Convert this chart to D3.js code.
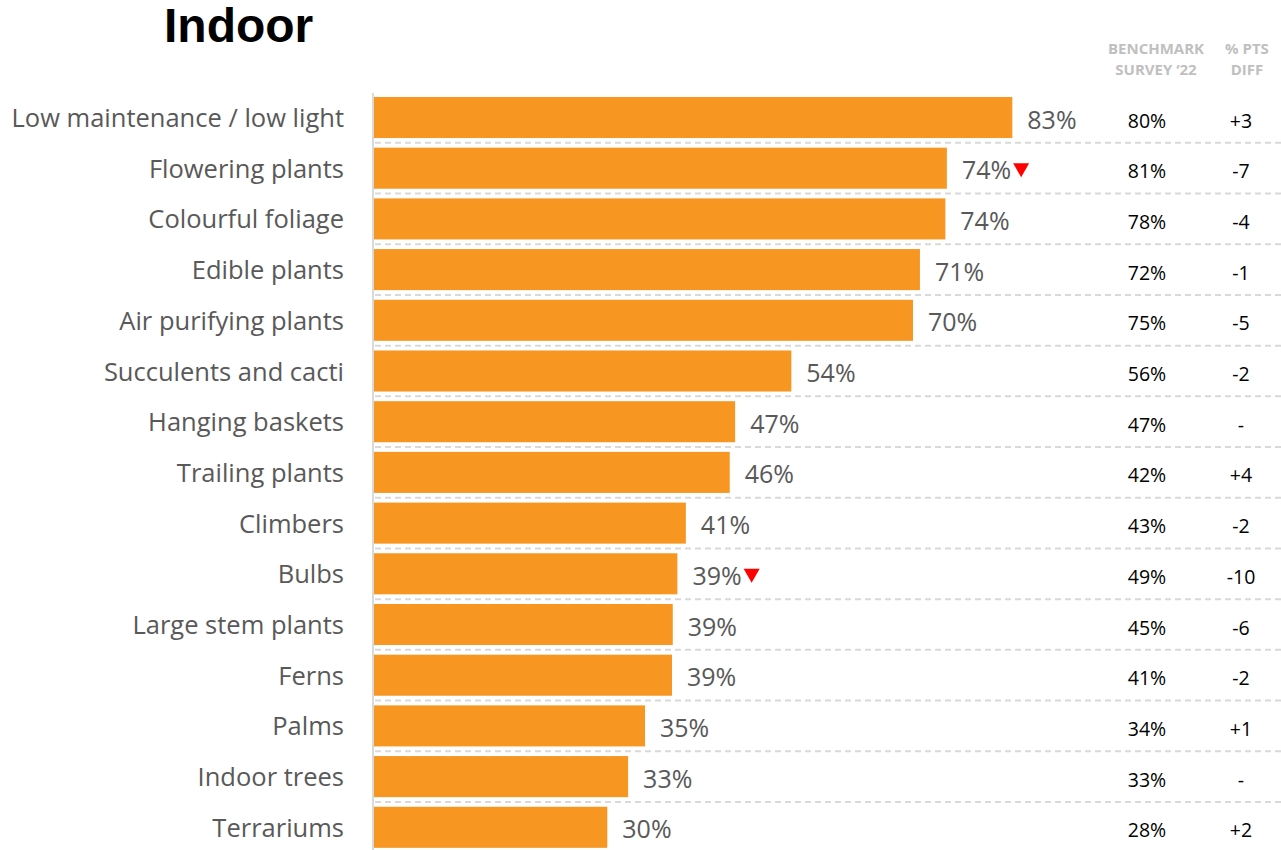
<!DOCTYPE html>
<html><head><meta charset="utf-8">
<script src="https://cdn.jsdelivr.net/npm/d3@7"></script>
<style>body{margin:0;background:#fff;}svg{display:block;}</style>
</head><body>
<svg id="c" width="1281" height="850"></svg>
<script>
const categories = ["Low maintenance / low light","Flowering plants","Colourful foliage","Edible plants","Air purifying plants","Succulents and cacti","Hanging baskets","Trailing plants","Climbers","Bulbs","Large stem plants","Ferns","Palms","Indoor trees","Terrariums"];
const values = [82.9,74.4,74.2,70.9,70.0,54.2,46.9,46.2,40.5,39.4,38.8,38.7,35.2,33.0,30.3];
const valueLabels = ["83%","74%","74%","71%","70%","54%","47%","46%","41%","39%","39%","39%","35%","33%","30%"];
const benchmark = ["80%","81%","78%","72%","75%","56%","47%","42%","43%","49%","45%","41%","34%","33%","28%"];
const diffs = ["+3","-7","-4","-1","-5","-2","-","+4","-2","-10","-6","-2","+1","-","+2"];
const flagged = [false,true,false,false,false,false,false,false,false,true,false,false,false,false,false];
const headers = [["BENCHMARK","SURVEY \u201822"],["% PTS","DIFF"]];

const svg = d3.select("#c");
const font = "'Open Sans', 'Noto Sans', sans-serif";
const x = d3.scaleLinear().domain([0,100]).range([374, 374+770]);
const y = d3.scaleBand().domain(categories).range([97-4.85, 97-4.85+50.7*15]).paddingInner(0.19).paddingOuter(0.095);

svg.append("text").attr("x",164).attr("y",42).text("Indoor")
  .attr("font-family","'Liberation Sans', Arial, sans-serif").attr("font-weight","bold").attr("font-size",48).attr("fill","#000");

// headers
const hx = [1156, 1247];
headers.forEach((h,i)=>{
  h.forEach((t,j)=>{
    svg.append("text").attr("x",hx[i]).attr("y",54+j*21).attr("text-anchor","middle").text(t)
      .attr("font-family",font).attr("font-weight","bold").attr("font-size",15).attr("fill","#bfbfbf");
  });
});

// dashed separators
const step = y.step();
svg.append("g").selectAll("line").data(categories.slice(0,-1)).join("line")
  .attr("x1",375).attr("x2",1281)
  .attr("y1",d=>y(d)+y.bandwidth()+ (step-y.bandwidth())/2)
  .attr("y2",d=>y(d)+y.bandwidth()+ (step-y.bandwidth())/2)
  .attr("stroke","#d9d9d9").attr("stroke-width",2).attr("stroke-dasharray","6,4");

// bars
svg.append("g").selectAll("rect").data(categories).join("rect")
  .attr("x",x(0)).attr("y",d=>y(d)).attr("height",y.bandwidth())
  .attr("width",(d,i)=>x(values[i])-x(0)).attr("fill","#f79722");

// axis line
svg.append("line").attr("x1",373).attr("x2",373).attr("y1",93).attr("y2",850).attr("stroke","#d9d9d9").attr("stroke-width",2);

// category labels
svg.append("g").selectAll("text").data(categories).join("text")
  .attr("x",344).attr("y",d=>y(d)+y.bandwidth()/2+9.5).attr("text-anchor","end")
  .attr("font-family",font).attr("font-size",25.5).attr("fill","#595959").text(d=>d);

// value labels
const vl = svg.append("g").selectAll("text").data(categories).join("text")
  .attr("x",(d,i)=>x(values[i])+15).attr("y",d=>y(d)+y.bandwidth()/2+11).attr("font-family",font)
  .attr("font-size",25).attr("fill","#595959").text((d,i)=>valueLabels[i]);

// red triangles
vl.each(function(d,i){
  if(!flagged[i]) return;
  const bb = this.getBBox();
  const tx = bb.x+bb.width+2, ty = y(d)+y.bandwidth()/2-5;
  svg.append("path").attr("d",`M${tx},${ty} L${tx+16},${ty} L${tx+8},${ty+14} Z`).attr("fill","#ff0000");
});

// benchmark & diff columns
svg.append("g").selectAll("text").data(categories).join("text")
  .attr("x",1147).attr("y",d=>y(d)+y.bandwidth()/2+10).attr("text-anchor","middle")
  .attr("font-family",font).attr("font-size",19.5).attr("fill","#000").text((d,i)=>benchmark[i]);
svg.append("g").selectAll("text").data(categories).join("text")
  .attr("x",1241).attr("y",d=>y(d)+y.bandwidth()/2+10).attr("text-anchor","middle")
  .attr("font-family",font).attr("font-size",19.5).attr("fill","#000").text((d,i)=>diffs[i]);
</script>
</body></html>
